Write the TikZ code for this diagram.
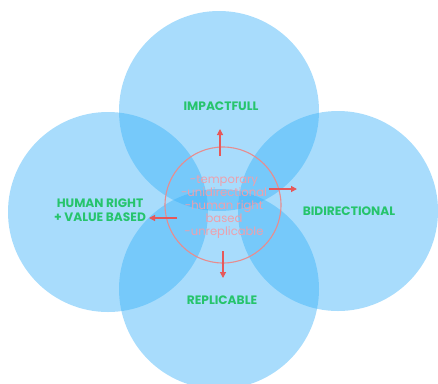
\documentclass[tikz,border=0pt]{standalone}
\usepackage{fontspec}
\setmainfont{Poppins}
\usetikzlibrary{arrows.meta}
\definecolor{circblue}{RGB}{56,176,248}
\definecolor{lblgreen}{RGB}{38,196,108}
\definecolor{ringred}{RGB}{232,140,142}
\definecolor{arrred}{RGB}{230,88,90}
\definecolor{txtpink}{RGB}{238,160,172}
\tikzset{
  bigcirc/.style={circle,minimum size=200pt,inner sep=0pt,fill=circblue,fill opacity=0.44,draw=none},
  lbl/.style={font=\bfseries\fontsize{12.2}{13.5}\selectfont,text=lblgreen,align=center,inner sep=0pt},
  ring/.style={circle,minimum size=116pt,inner sep=0pt,draw=ringred,line width=1.1pt},
  midtxt/.style={font=\fontsize{11.6}{13.2}\selectfont,text=txtpink,align=center,inner sep=0pt},
  outarrow/.style={draw=arrred,line width=1.2pt,-{Triangle[length=6pt,width=6pt]}}
}
\begin{document}
\begin{tikzpicture}[x=1pt,y=-1pt]
\useasboundingbox (0,0) rectangle (438,383);
\node[bigcirc] (top) at (219,111) {};
\node[bigcirc] (left) at (108,212) {};
\node[bigcirc] (right) at (338,211) {};
\node[bigcirc] (bottom) at (219,289) {};
\node[ring] (ring) at (223,205) {};
\node[midtxt] (mid) at (224,207) {-temporary\\-unidirectional\\-human right\\based\\-unreplicable};
\node[lbl] (impact) at (221,106) {IMPACTFULL};
\node[lbl] (bidir) at (349,211) {BIDIRECTIONAL};
\node[lbl] (human) at (100,210) {HUMAN RIGHT\\+ VALUE BASED};
\node[lbl] (repl) at (222,300) {REPLICABLE};
\coordinate (us) at (220,156);
\coordinate (ue) at (220,129);
\coordinate (rs) at (269,189);
\coordinate (re) at (297,189);
\coordinate (ls) at (177,218);
\coordinate (le) at (149,218);
\coordinate (ds) at (223,251);
\coordinate (de) at (223,278);
\draw[outarrow] (us) -- (ue);
\draw[outarrow] (rs) -- (re);
\draw[outarrow] (ls) -- (le);
\draw[outarrow] (ds) -- (de);
\end{tikzpicture}
\end{document}
